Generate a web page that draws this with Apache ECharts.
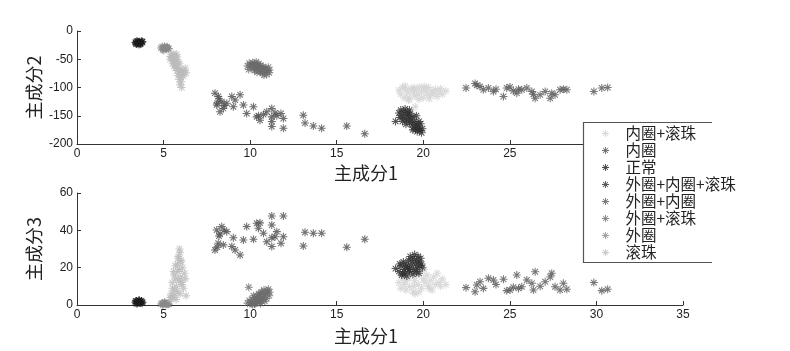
<!DOCTYPE html>
<html>
<head>
<meta charset="utf-8">
<script src="https://cdn.jsdelivr.net/npm/echarts@6/dist/echarts.min.js"></script>
<style>html,body{margin:0;padding:0;background:#fff}#c{width:790px;height:351px}</style>
</head>
<body>
<div id="c"></div>
<script>
// ---- class names (legend order) ----
const classNames = ['内圈+滚珠','内圈','正常','外圈+内圈+滚珠','外圈+内圈','外圈+滚珠','外圈','滚珠'];
const xTicks = [0,5,10,15,20,25,30,35];
const pc2Ticks = [-200,-150,-100,-50,0];
const pc3Ticks = [0,20,40,60];

// ---- 内圈+滚珠 ----
const innerBallPC1 = [18.6,18.7,18.8,18.9,19.0,19.1,19.2,19.3,19.4,19.5,19.53,19.6,19.7,19.8,19.9,20.0,20.1,20.2,20.3,20.4,20.5,20.6,20.7,20.8,20.9,21.0,21.1,21.3,19.15,19.75,20.35,18.95,20.05,19.45];
const innerBallPC2 = [-105,-112,-100,-118,-104,-110,-120,-102,-108,-115,-134,-103,-112,-99,-107,-118,-104,-110,-100,-114,-106,-111,-103,-116,-108,-102,-112,-106,-122,-121,-120,-97,-98,-100];
const innerBallPC3 = [12,9,15,11,8,14,10,17,7,13,6,16,11,18,9,14,12,16,10,13,8,15,11,17,12,10,14,11,18,7,9,13,19,10];

// ---- 内圈 ----
const innerPC1 = [7.97,8.07,8.16,8.26,8.36,8.45,8.65,8.94,9.03,9.13,9.42,9.61,9.80,10.19,10.38,10.48,10.57,10.77,10.96,11.25,11.25,11.25,11.25,11.44,11.54,11.78,11.92,11.92,13.07,13.17,13.65,14.13,15.58,16.62,8.2,8.5,8.1];
const innerPC2 = [-110,-131,-116,-143,-125,-137,-128,-116,-134,-122,-113,-131,-146,-134,-152,-150,-158,-148,-143,-137,-152,-160,-169,-145,-150,-146,-155,-172,-149,-163,-168,-172,-168,-182,-120,-132,-128];
const innerPC3 = [29.5,40.2,33.1,38,42,32.2,39.3,31.3,36,29.5,26.8,34.8,42,35.2,43.8,41.1,44,38.4,33.9,47.7,42.9,31.3,36,36.6,39.3,33.1,47.7,36.6,31.6,39,38.4,38.4,30.9,35.2,37,40,31];

// ---- 正常 ----
const normalPC1 = [3.38,3.45,3.52,3.60,3.68,3.75,3.42,3.50,3.58,3.66,3.72,3.48,3.56,3.64,3.40,3.78];
const normalPC2 = [-20,-18,-21,-19,-22,-20,-23,-19,-24,-21,-18,-22,-20,-23,-21,-19];
const normalPC3 = [1.5,2.0,1.2,2.4,1.8,1.0,0.9,1.6,2.6,1.3,2.1,0.8,1.9,1.1,2.2,1.5];

// ---- 外圈+内圈+滚珠 ----
const outerInnerBallPC1 = [18.40,18.60,18.70,18.75,18.85,18.90,18.95,19.00,19.05,19.10,19.15,19.20,19.25,19.30,19.35,19.40,19.45,19.50,19.55,19.60,19.65,19.70,19.75,19.80,19.85,19.90,19.95,18.80,19.00,19.20,19.40,19.60,18.65,19.75];
const outerInnerBallPC2 = [-160,-145,-140,-150,-143,-155,-138,-148,-158,-144,-152,-162,-147,-157,-166,-152,-170,-160,-174,-165,-178,-168,-172,-176,-164,-180,-173,-160,-165,-140,-175,-150,-153,-160];
const outerInnerBallPC3 = [19.5,18,21,16,23,19,17,22,15.5,20,24,18,26,21,23,25,19,27,22,24,20,26,23,21,25,22,20,17,20.5,19,16.5,18,22,17];

// ---- 外圈+内圈 ----
const outerInnerPC1 = [22.47,22.99,23.09,23.28,23.47,23.76,24.05,24.20,24.63,24.82,25.01,25.20,25.40,25.50,25.69,25.98,26.27,26.36,26.46,26.75,27.04,27.33,27.42,27.61,27.90,28.09,28.29,29.85,30.31,30.65];
const outerInnerPC2 = [-101,-93,-96,-98,-104,-101,-107,-103,-116,-101,-99,-106,-110,-103,-104,-101,-107,-112,-119,-113,-107,-119,-110,-113,-104,-103,-104,-107,-101,-100];
const outerInnerPC3 = [9.3,7.1,10.7,12.5,8.9,14.3,13.4,11,13.8,7.7,8,9.5,16.1,8.9,9.8,13.4,11.6,8,17.8,10,12.5,15,17,9.8,8,11.6,8.4,12,7.7,8.4];

// ---- 外圈+滚珠 ----
const outerBallPC1 = [9.85,9.95,10.05,10.15,10.25,10.35,10.10,10.20,10.30,10.40,10.50,10.60,10.45,10.55,10.65,10.75,10.35,10.50,10.70,10.80,10.90,10.60,10.85,11.00,11.10,10.95,10.70,10.25,9.92,11.05,10.40,10.15,10.80,11.12];
const outerBallPC2 = [-62,-57,-60,-56,-58,-55,-65,-63,-62,-60,-58,-61,-66,-65,-64,-63,-68,-70,-68,-67,-66,-72,-72,-70,-74,-77,-75,-70,-68,-64,-73,-61,-78,-69];
const outerBallPC3 = [1.0,2.5,1.5,3.0,4.0,2.0,0.5,5.0,1.0,3.5,6.0,2.5,4.5,1.5,7.0,3.0,2.0,5.5,4.0,8.0,6.0,0.8,2.0,7.5,5.0,3.5,6.5,0.5,9.5,8.5,1.8,0.3,4.8,6.8];

// ---- 外圈 ----
const outerPC1 = [4.85,4.92,5.00,5.08,5.15,5.22,5.30,4.95,5.05,5.12,5.20,5.27,5.02,5.18];
const outerPC2 = [-30,-28,-31,-29,-32,-30,-31,-33,-27,-30,-28,-32,-34,-29];
const outerPC3 = [0.5,0.9,0.3,1.2,0.6,1.0,0.4,0.2,1.5,0.8,0.3,0.7,1.1,0.5];

// ---- 滚珠 ----
const ballPC1 = [5.45,5.55,5.65,5.75,5.50,5.60,5.70,5.80,5.85,5.52,5.62,5.72,5.82,5.92,5.95,6.00,6.10,6.20,5.88,5.78,6.05,5.98,5.90,6.02,5.95,6.05,5.68,5.40,6.25,6.15,5.58,5.85,6.30,5.38];
const ballPC2 = [-42,-40,-44,-41,-48,-52,-50,-46,-55,-58,-62,-60,-65,-58,-68,-72,-70,-73,-75,-70,-78,-82,-86,-90,-95,-100,-66,-45,-66,-80,-54,-79,-74,-50];
const ballPC3 = [6,4,8,10,12,5,14,22,26,9,16,3,18,30,28,24,20,17,13,7,11,15,19,23,6,12,21,3,14,9,18,25,5,4];

const classPC1 = [innerBallPC1,innerPC1,normalPC1,outerInnerBallPC1,outerInnerPC1,outerBallPC1,outerPC1,ballPC1];
const classPC2 = [innerBallPC2,innerPC2,normalPC2,outerInnerBallPC2,outerInnerPC2,outerBallPC2,outerPC2,ballPC2];
const classPC3 = [innerBallPC3,innerPC3,normalPC3,outerInnerBallPC3,outerInnerPC3,outerBallPC3,outerPC3,ballPC3];
const classColors = ['#d2d2d2','#4e4e4e','#1c1c1c','#2e2e2e','#565656','#6c6c6c','#8a8a8a','#bababa'];

const STAR = 'path://M8.7,0h2.6v20h-2.6z M0,8.7h20v2.6h-20z M3.82,1.98L18.02,16.18L16.18,18.02L1.98,3.82z M16.18,1.98L18.02,3.82L3.82,18.02L1.98,16.18z';

const tickFont = {fontFamily:'Liberation Sans, Arial, sans-serif', fontSize:12, color:'#222'};
const cjk = 'Noto Sans CJK SC';

function xAxis(gi, gap){
  return {gridIndex:gi, type:'value', min:0, max:35, interval:5,
    axisLine:{show:true, onZero:false, lineStyle:{color:'#333', width:1}},
    axisTick:{show:true, inside:true, length:4, lineStyle:{color:'#333'}},
    axisLabel:Object.assign({margin:4}, tickFont),
    splitLine:{show:false},
    name:'主成分1', nameLocation:'middle', nameGap:gap,
    nameTextStyle:{fontFamily:cjk, fontSize:18, color:'#222', padding:[0,28,0,0]}};
}
function yAxis(gi, min, max, interval, name){
  return {gridIndex:gi, type:'value', min:min, max:max, interval:interval,
    axisLine:{show:true, onZero:false, lineStyle:{color:'#333', width:1}},
    axisTick:{show:true, inside:true, length:4, lineStyle:{color:'#333'}},
    axisLabel:Object.assign({margin:4}, tickFont),
    splitLine:{show:false},
    name:name, nameLocation:'middle', nameGap:34, nameRotate:90, nameMoveOverlap:false,
    nameTextStyle:{fontFamily:cjk, fontSize:18, color:'#222'}};
}

const series = [];
[0,1].forEach(function(gi){
  classNames.forEach(function(n, k){
    const ys = gi === 0 ? classPC2[k] : classPC3[k];
    series.push({
      type:'scatter', name:n, xAxisIndex:gi, yAxisIndex:gi,
      symbol:STAR, symbolSize:8,
      itemStyle:{color:classColors[k]},
      data:classPC1[k].map(function(x,i){return [x, ys[i]];}),
      emphasis:{disabled:true}, animation:false
    });
  });
});

const chart = echarts.init(document.getElementById('c'), null, {renderer:'canvas'});
chart.setOption({
  backgroundColor:'#fff',
  animation:false,
  grid:[
    {left:77, width:606, top:31, height:113},
    {left:77, width:606, top:193, height:112}
  ],
  xAxis:[xAxis(0, 20), xAxis(1, 22)],
  yAxis:[yAxis(0, -200, 0, 50, '主成分2'), yAxis(1, 0, 60, 20, '主成分3')],
  graphic:[
    {type:'rect', z:50, shape:{x:583, y:122, width:129, height:141}, style:{fill:'#fff'}},
    {type:'polyline', z:51, shape:{points:[[712,122.5],[583.5,122.5],[583.5,262.5],[712,262.5]]}, style:{stroke:'#555', lineWidth:1.2, fill:null}}
  ],
  legend:{
    z:60, orient:'vertical', left:602, top:125, padding:0,
    itemWidth:30, itemHeight:7, itemGap:0, symbolKeepAspect:true,
    data:classNames.map(function(n){return {name:n, icon:STAR};}),
    textStyle:{fontFamily:cjk, fontSize:15.5, lineHeight:17, color:'#222', padding:[0,0,0,0]},
    selectedMode:false
  },
  series:series
});
</script>
</body>
</html>
